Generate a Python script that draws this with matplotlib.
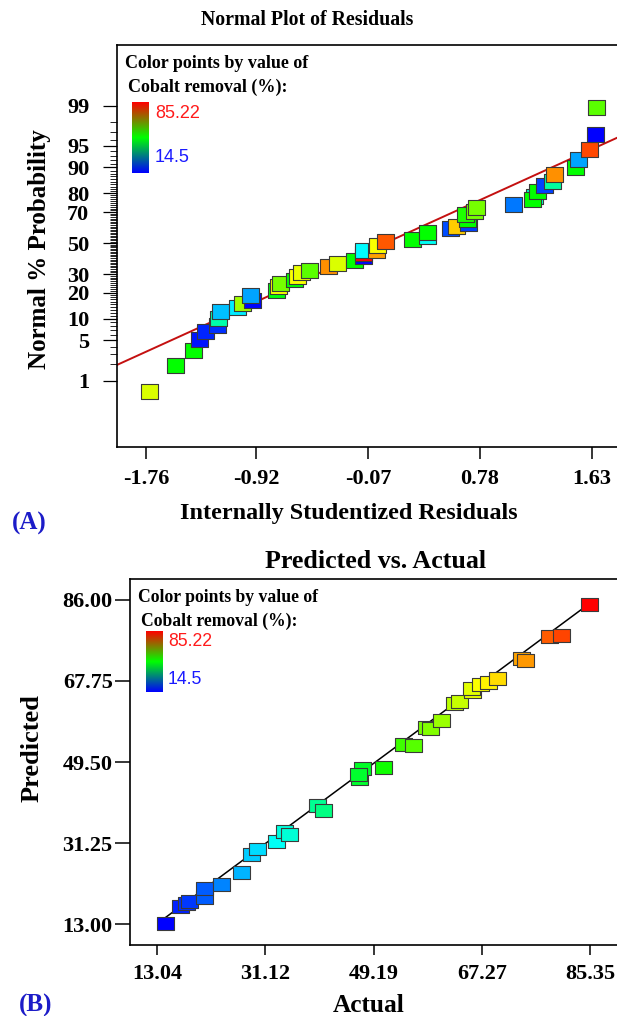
import numpy as np
import matplotlib
matplotlib.use("Agg")
import matplotlib.pyplot as plt
from matplotlib.colors import LinearSegmentedColormap, Normalize
from statistics import NormalDist

# %%
# Data
# (A) normal plot of residuals: residual, normal % probability, cobalt removal (%) colour value
res_x = [-1.737, -1.534, -1.396, -1.356, -1.305, -1.217, -1.209, -1.196, -1.061, -1.026,
         -0.95, -0.967, -0.771, -0.752, -0.739, -0.630, -0.607, -0.574, -0.515, -0.375,
         -0.304, -0.172, -0.109, -0.104, -0.104, -0.009, 0.0, 0.062, 0.267, 0.379,
         0.379, 0.555, 0.599, 0.696, 0.683, 0.671, 0.740, 0.755, 1.035, 1.192,
         1.180, 1.218, 1.268, 1.332, 1.350, 1.505, 1.527, 1.616, 1.657, 1.664]
res_p = [0.59, 1.95, 3.51, 5.22, 6.68, 8.27, 10.1, 12.3, 13.7, 15.4,
         16.7, 18.9, 21.3, 23.0, 24.8, 26.6, 28.8, 30.8, 32.4, 34.4,
         36.5, 38.7, 40.9, 43.1, 45.3, 44.8, 48.6, 50.9, 52.7, 54.3,
         56.9, 59.4, 61.3, 63.0, 65.6, 68.8, 70.2, 72.5, 74.4, 78.3,
         76.7, 80.7, 83.3, 85.0, 87.7, 90.0, 92.2, 94.4, 96.7, 98.9]
res_c = [65, 50, 50, 16, 17, 18, 38, 28, 31, 61,
         15, 26, 49, 67, 58, 50, 67, 66, 56, 75,
         65, 50, 15, 85, 32, 74, 67, 79, 50, 33,
         50, 20, 71, 19, 50, 52, 58, 58, 23, 36,
         50, 50, 19, 39, 75, 50, 26, 80, 14.5, 56]
# fitted normal line (mean, sd of residuals)
line_mean = 0.06
line_sd = 0.99

# (B) predicted vs actual
actual = [14.5, 16.9, 17.9, 18.5, 21.0, 21.0, 23.8, 27.2, 28.8, 29.8,
          33.0, 34.4, 35.2, 39.8, 40.8, 46.8, 47.3, 46.6, 50.8, 54.1,
          55.8, 58.0, 58.7, 60.5, 62.7, 63.5, 65.7, 65.5, 67.0, 68.3,
          69.8, 73.8, 74.5, 78.6, 80.5, 85.22]
predicted = [13.2, 16.9, 17.7, 18.0, 18.9, 21.0, 21.9, 24.6, 28.7, 29.9,
             31.5, 33.8, 33.1, 39.7, 38.5, 45.7, 48.1, 46.6, 48.2, 53.5,
             53.3, 57.3, 57.1, 58.8, 62.6, 63.2, 65.3, 66.1, 66.9, 67.5,
             68.4, 72.9, 72.3, 77.7, 78.1, 84.9]

cmin, cmax = 14.5, 85.22
a_xticks = [-1.76, -0.92, -0.07, 0.78, 1.63]
a_yticks = [1, 5, 10, 20, 30, 50, 70, 80, 90, 95, 99]
b_xticks = [13.04, 31.12, 49.19, 67.27, 85.35]
b_yticks = [13.00, 31.25, 49.50, 67.75, 86.00]

# %%
W, H = 617, 1016
serif = "Liberation Serif"
sans = "Liberation Sans"
lab_blue = "#1c1cc8"

pts_cmap = LinearSegmentedColormap.from_list(
    "pts", ["#0000ff", "#00ffff", "#00ff00", "#ffff00", "#ff0000"])
bar_cmap = LinearSegmentedColormap.from_list("bar", ["#0000ff", "#00ff00", "#ff0000"])
norm = Normalize(cmin, cmax)

nd = NormalDist()
_ppf = np.vectorize(nd.inv_cdf, otypes=[float])
_cdf = np.vectorize(nd.cdf, otypes=[float])


def fwd(p):
    p = np.clip(np.asarray(p, dtype=float) / 100.0, 1e-12, 1 - 1e-12)
    return _ppf(p)


def inv(z):
    return _cdf(np.asarray(z, dtype=float)) * 100.0


def fx(px):
    return px / W


def fy(py):
    return 1 - py / H


fig = plt.figure(figsize=(W / 100, H / 100), dpi=100)

# rectangle markers
rectA = [(-1, -0.88), (1, -0.88), (1, 0.88), (-1, 0.88), (-1, -0.88)]
rectB = [(-1, -0.76), (1, -0.76), (1, 0.76), (-1, 0.76), (-1, -0.76)]

# both panels run a few pixels past the right edge (cropped frame)
right_px = 623

# %%
# (A) Normal plot of residuals
axA = fig.add_axes([fx(117), fy(447), fx(right_px) - fx(117), (447 - 45) / H])
axA.set_yscale("function", functions=(fwd, inv))
xl = np.array([-1.981, 1.868])
axA.plot(xl, inv((xl - line_mean) / line_sd), color="#c41010", lw=1.4, zorder=2)
axA.scatter(res_x, res_p, c=res_c, cmap=pts_cmap, norm=norm, marker=rectA, s=150,
            edgecolors="#3a3a3a", linewidths=0.8, zorder=3)
axA.set_xlim(xl[0], xl[1])
axA.set_ylim(inv(-3.45), inv(3.35))
axA.set_xticks(a_xticks)
axA.set_xticklabels(["%.2f" % v for v in a_xticks])
axA.set_yticks(a_yticks)
axA.set_yticklabels([str(v) for v in a_yticks])
axA.set_yticks(np.arange(1, 100), minor=True)
axA.xaxis.set_minor_locator(matplotlib.ticker.NullLocator())
axA.tick_params(axis="x", which="major", direction="out", length=8.6, width=1.1, pad=7)
axA.tick_params(axis="y", which="major", direction="out", length=10, width=0.9, pad=10)
axA.tick_params(axis="y", which="minor", direction="out", length=5, width=0.6)
axA.spines["right"].set_visible(False)

# %%
# (B) Predicted vs actual
axB = fig.add_axes([fx(130), fy(945), fx(right_px) - fx(130), (945 - 579) / H])
axB.plot([cmin, cmax], [cmin, cmax], color="black", lw=1.1, zorder=2)
axB.scatter(actual, predicted, c=actual, cmap=pts_cmap, norm=norm, marker=rectB, s=150,
            edgecolors="#3a3a3a", linewidths=0.8, zorder=3)
axB.set_xlim(8.54, 90.8)
axB.set_ylim(8.27, 90.73)
axB.set_xticks(b_xticks)
axB.set_xticklabels(["%.2f" % v for v in b_xticks])
axB.set_yticks(b_yticks)
axB.set_yticklabels(["%.2f" % v for v in b_yticks])
axB.tick_params(axis="x", direction="out", length=7, width=1.1, pad=7)
axB.tick_params(axis="y", direction="out", length=11, width=1.1, pad=1.5)
axB.spines["right"].set_visible(False)

for ax in (axA, axB):
    for sp in ax.spines.values():
        sp.set_linewidth(1.2)
    for lab in ax.get_xticklabels() + ax.get_yticklabels():
        lab.set_fontfamily(serif)
        lab.set_fontweight("bold")
        lab.set_fontsize(16)

# %%
# Titles, labels, panel letters
fig.text(fx(307), fy(20), "Normal Plot of Residuals", family=serif, weight="bold",
         fontsize=14.3, ha="center", va="center")
fig.text(fx(349), fy(514), "Internally Studentized Residuals", family=serif, weight="bold",
         fontsize=17.4, ha="center", va="center")
fig.text(fx(40), fy(249), "Normal % Probability", family=serif, weight="bold",
         fontsize=18, ha="center", va="center", rotation=90)
fig.text(fx(29.5), fy(523), "(A)", family=serif, weight="bold", fontsize=18,
         color=lab_blue, ha="center", va="center")

fig.text(fx(376), fy(562), "Predicted vs. Actual", family=serif, weight="bold",
         fontsize=18.7, ha="center", va="center")
fig.text(fx(369), fy(1005), "Actual", family=serif, weight="bold",
         fontsize=18.3, ha="center", va="center")
fig.text(fx(32), fy(748), "Predicted", family=serif, weight="bold",
         fontsize=19, ha="center", va="center", rotation=90)
fig.text(fx(36), fy(1005), "(B)", family=serif, weight="bold", fontsize=18,
         color=lab_blue, ha="center", va="center")

# %%
# Colour legends inside the panels
grad = np.linspace(0, 1, 256).reshape(-1, 1)


def colour_legend(x0, y0, bar_x, bar_y, num_x, hi_y, lo_y, size):
    fig.text(fx(x0), fy(y0), "Color points by value of", family=serif, weight="bold",
             fontsize=size, ha="left", va="center")
    fig.text(fx(x0 + 3), fy(y0 + 23), "Cobalt removal (%):", family=serif, weight="bold",
             fontsize=size, ha="left", va="center")
    cax = fig.add_axes([fx(bar_x[0]), fy(bar_y[1]), (bar_x[1] - bar_x[0]) / W,
                        (bar_y[1] - bar_y[0]) / H])
    cax.imshow(grad, aspect="auto", cmap=bar_cmap, origin="lower")
    cax.set_axis_off()
    fig.text(fx(num_x), fy(hi_y), "%.2f" % cmax, family=sans, fontsize=size,
             color="#ff1a1a", ha="left", va="center")
    fig.text(fx(num_x), fy(lo_y), "%.1f" % cmin, family=sans, fontsize=size,
             color="#1a1aff", ha="left", va="center")


colour_legend(125, 64, (132, 149), (102, 173), 155, 113, 157, 13)
colour_legend(138, 598, (146, 163), (631, 692), 168, 641, 679, 12.7)

fig.savefig("out.png", dpi=100)
